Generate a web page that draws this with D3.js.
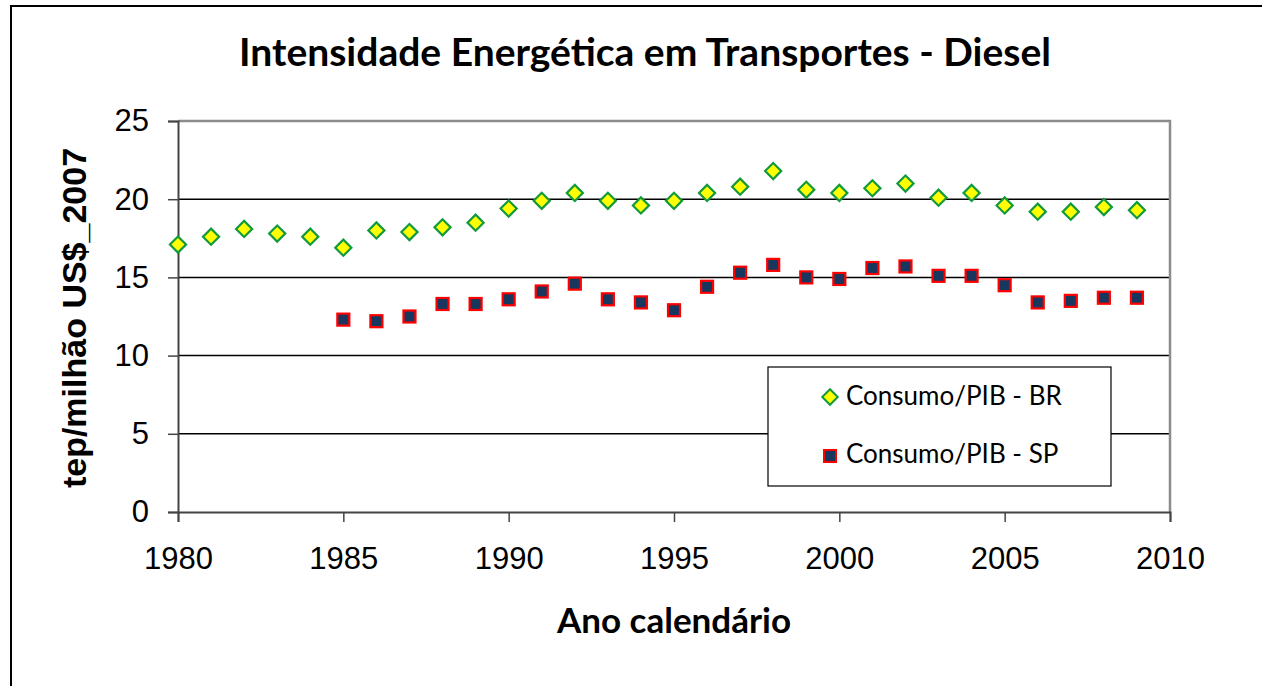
<!DOCTYPE html>
<html>
<head>
<meta charset="utf-8">
<script src="https://cdn.jsdelivr.net/npm/d3@7"></script>
<style>
  body { margin: 0; background: #fff; }
  svg { display: block; }
</style>
</head>
<body>
<div class="chart"></div>
<script>
var width = 1262, height = 686;
var margin = {top: 121, right: 92, bottom: 174, left: 178};

// data
var yearsBR = [1980, 1981, 1982, 1983, 1984, 1985, 1986, 1987, 1988, 1989,
               1990, 1991, 1992, 1993, 1994, 1995, 1996, 1997, 1998, 1999,
               2000, 2001, 2002, 2003, 2004, 2005, 2006, 2007, 2008, 2009];
var valuesBR = [17.1, 17.6, 18.1, 17.8, 17.6, 16.9, 18.0, 17.9, 18.2, 18.5,
                19.4, 19.9, 20.4, 19.9, 19.6, 19.9, 20.4, 20.8, 21.8, 20.6,
                20.4, 20.7, 21.0, 20.1, 20.4, 19.6, 19.2, 19.2, 19.5, 19.3];
var yearsSP = [1985, 1986, 1987, 1988, 1989, 1990, 1991, 1992, 1993, 1994,
               1995, 1996, 1997, 1998, 1999, 2000, 2001, 2002, 2003, 2004,
               2005, 2006, 2007, 2008, 2009];
var valuesSP = [12.3, 12.2, 12.5, 13.3, 13.3, 13.6, 14.1, 14.6, 13.6, 13.4,
                12.9, 14.4, 15.3, 15.8, 15.0, 14.9, 15.6, 15.7, 15.1, 15.1,
                14.5, 13.4, 13.5, 13.7, 13.7];
var xTicks = [1980, 1985, 1990, 1995, 2000, 2005, 2010];
var yTicks = [0, 5, 10, 15, 20, 25];
var seriesNames = ["Consumo/PIB - BR", "Consumo/PIB - SP"];

var svg = d3.select(".chart")
  .append("svg")
    .attr("width", width)
    .attr("height", height);

// outer frame (right and bottom edges fall outside the picture)
svg.append("rect")
  .attr("x", 11).attr("y", 6)
  .attr("width", width + 20).attr("height", height + 20)
  .style("fill", "none")
  .style("stroke", "#000")
  .style("stroke-width", 2);

var x = d3.scaleLinear().domain([1980, 2010]).range([margin.left, width - margin.right]);
var y = d3.scaleLinear().domain([0, 25]).range([height - margin.bottom, margin.top]);

var sans = "'Liberation Sans', Arial, sans-serif";
var cal = "Lato, 'Open Sans', sans-serif";

// gridlines
svg.append("g")
  .selectAll("line")
  .data(yTicks.filter(function(d) { return d > 0 && d < 25; }))
  .enter().append("line")
    .attr("x1", x(1980)).attr("x2", x(2010))
    .attr("y1", function(d) { return y(d); })
    .attr("y2", function(d) { return y(d); })
    .style("stroke", "#000")
    .style("stroke-width", 1.5);

// top and right border of plot area
svg.append("path")
  .attr("d", "M" + x(1980) + "," + y(25) + "H" + x(2010) + "V" + y(0))
  .style("fill", "none")
  .style("stroke", "#8c8c8c")
  .style("stroke-width", 2.5);

// axes
var xAxis = svg.append("g")
  .attr("transform", "translate(0," + y(0) + ")")
  .call(d3.axisBottom(x).tickValues(xTicks).tickFormat(d3.format("d")).tickSize(10).tickPadding(25));
var yAxis = svg.append("g")
  .attr("transform", "translate(" + x(1980) + ",0)")
  .call(d3.axisLeft(y).tickValues(yTicks).tickSize(10).tickPadding(19));

[xAxis, yAxis].forEach(function(ax) {
  ax.select(".domain").style("stroke", "#444").style("stroke-width", 2);
  ax.selectAll(".tick line").style("stroke", "#444").style("stroke-width", 1.5);
  ax.selectAll("text")
    .style("font-family", sans)
    .style("font-size", "31px")
    .style("fill", "#000");
});

// markers
var diamond = d3.symbol().type(d3.symbolSquare).size(130);

svg.append("g")
  .selectAll("path")
  .data(valuesBR)
  .enter().append("path")
    .attr("d", diamond)
    .attr("transform", function(d, i) {
      return "translate(" + x(yearsBR[i]) + "," + y(d) + ") rotate(45)";
    })
    .style("fill", "#ffff00")
    .style("stroke", "#129a3c")
    .style("stroke-width", 2.2);

svg.append("g")
  .selectAll("rect")
  .data(valuesSP)
  .enter().append("rect")
    .attr("x", function(d, i) { return x(yearsSP[i]) - 6; })
    .attr("y", function(d) { return y(d) - 6; })
    .attr("width", 12).attr("height", 12)
    .style("fill", "#17375e")
    .style("stroke", "#ff0000")
    .style("stroke-width", 2.2);

// title and axis titles
svg.append("text")
  .attr("x", 645).attr("y", 66)
  .attr("text-anchor", "middle")
  .style("font-family", cal)
  .style("font-weight", "bold")
  .style("font-size", "39px")
  .text("Intensidade Energética em Transportes - Diesel");

svg.append("text")
  .attr("x", 674).attr("y", 633)
  .attr("text-anchor", "middle")
  .style("font-family", cal)
  .style("font-weight", "bold")
  .style("font-size", "35px")
  .text("Ano calendário");

svg.append("text")
  .attr("transform", "translate(86," + 318 + ") rotate(-90)")
  .attr("text-anchor", "middle")
  .style("font-family", sans)
  .style("font-weight", "bold")
  .style("font-size", "34px")
  .text("tep/milhão US$_2007");

// legend
var legend = svg.append("g");
legend.append("rect")
  .attr("x", 768).attr("y", 367)
  .attr("width", 343).attr("height", 119)
  .style("fill", "#fff")
  .style("stroke", "#000")
  .style("stroke-width", 1.2);

legend.append("path")
  .attr("d", d3.symbol().type(d3.symbolSquare).size(120))
  .attr("transform", "translate(830,397) rotate(45)")
  .style("fill", "#ffff00")
  .style("stroke", "#129a3c")
  .style("stroke-width", 2);
legend.append("rect")
  .attr("x", 824).attr("y", 450).attr("width", 12).attr("height", 12)
  .style("fill", "#17375e")
  .style("stroke", "#ff0000")
  .style("stroke-width", 2);

legend.selectAll("text.lg")
  .data(seriesNames)
  .enter().append("text")
    .attr("class", "lg")
    .attr("x", 846)
    .attr("y", function(d, i) { return 405 + i * 58; })
    .style("font-family", cal)
    .style("font-size", "26px")
    .text(function(d) { return d; });
</script>
</body>
</html>
